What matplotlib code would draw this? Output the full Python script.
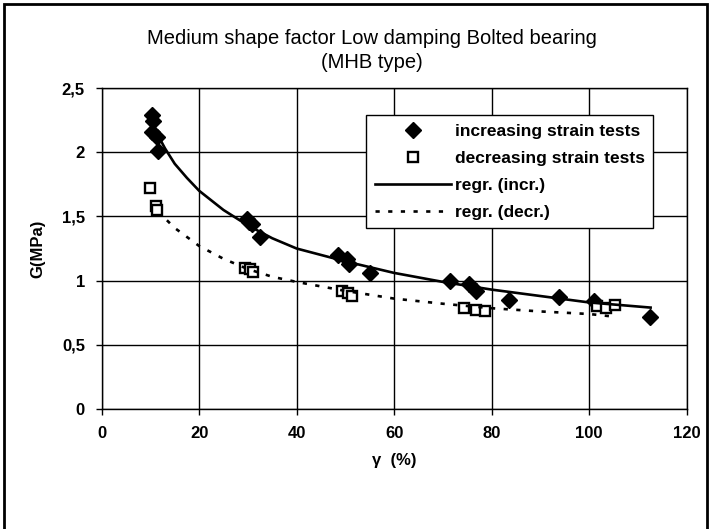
import matplotlib.pyplot as plt
from matplotlib.patches import Rectangle

plt.rcParams['font.family'] = ['Liberation Sans', 'DejaVu Sans']

# increasing strain tests
incr_x = [10.3, 10.5, 10.3, 11.3, 11.6, 29.8, 30.3, 30.8, 32.5,
          48.5, 50.3, 50.8, 55.1, 71.4, 75.3, 76.7, 83.5, 93.8, 101.0, 112.5]
incr_G = [2.29, 2.24, 2.16, 2.12, 2.01, 1.48, 1.46, 1.44, 1.34,
          1.20, 1.17, 1.13, 1.06, 0.995, 0.97, 0.92, 0.85, 0.875, 0.84, 0.72]

# decreasing strain tests
decr_x = [9.9, 11.1, 11.3, 29.4, 30.5, 31.1, 49.3, 50.5, 51.4,
          74.3, 76.7, 78.7, 101.7, 103.4, 105.4]
decr_G = [1.72, 1.58, 1.55, 1.10, 1.09, 1.07, 0.92, 0.90, 0.88,
          0.79, 0.77, 0.766, 0.80, 0.787, 0.81]

# regression curves as drawn
regr_incr_x = [11.3, 13, 15, 17.5, 20, 25, 30, 35, 40, 50, 60, 70, 80, 90, 100, 112.6]
regr_incr_G = [2.15, 2.03, 1.91, 1.80, 1.70, 1.55, 1.43, 1.33, 1.25, 1.15, 1.06, 0.99, 0.93, 0.88, 0.83, 0.79]
regr_decr_x = [13.4, 15, 17.5, 20, 25, 30, 35, 40, 50, 60, 70, 80, 90, 100, 105]
regr_decr_G = [1.47, 1.41, 1.34, 1.27, 1.17, 1.09, 1.03, 0.99, 0.92, 0.86, 0.82, 0.785, 0.76, 0.74, 0.72]

xticks = [0, 20, 40, 60, 80, 100, 120]
yticks = [0, 0.5, 1, 1.5, 2, 2.5]
ytick_labels = ['0', '0,5', '1', '1,5', '2', '2,5']

fig = plt.figure(figsize=(7.11, 5.29), dpi=100)
ax = fig.add_axes([0.1429, 0.2268, 0.8229, 0.6068])

ax.grid(True, color='black', linewidth=1.0)
ax.set_axisbelow(True)

ax.plot(incr_x, incr_G, 'D', color='black', markersize=8, label='increasing strain tests')
ax.plot(decr_x, decr_G, 's', color='black', markerfacecolor='white', markeredgewidth=1.7,
        markersize=7.5, label='decreasing strain tests')
ax.plot(regr_incr_x, regr_incr_G, '-', color='black', linewidth=1.9, label='regr. (incr.)')
ax.plot(regr_decr_x, regr_decr_G, color='black', linewidth=1.9, linestyle=(0, (1.6, 3.2)),
        label='regr. (decr.)')

ax.set_xlim(0, 120)
ax.set_ylim(0, 2.5)
ax.set_xticks(xticks)
ax.set_yticks(yticks)
ax.set_yticklabels(ytick_labels)
for lbl in ax.get_xticklabels() + ax.get_yticklabels():
    lbl.set_fontweight('bold')
ax.tick_params(labelsize=12, direction='out', length=4, width=1, pad=8)
for s in ax.spines.values():
    s.set_linewidth(1.0)

ax.set_xlabel('\u03b3  (%)', fontsize=12, fontweight='bold', labelpad=9)
ax.set_ylabel('G(MPa)', fontsize=12, fontweight='bold', labelpad=12)

fig.text(0.523, 0.905, 'Medium shape factor Low damping Bolted bearing\n(MHB type)',
         ha='center', va='center', fontsize=14.5, linespacing=1.3)

leg = ax.legend(loc='upper right', bbox_to_anchor=(0.943, 0.916), numpoints=1,
                prop={'weight': 'bold', 'size': 12.5}, frameon=True, fancybox=False,
                handlelength=4.4, handletextpad=0.2, labelspacing=0.68, borderpad=0.5,
                borderaxespad=0)
leg.get_frame().set_edgecolor('black')
leg.get_frame().set_linewidth(1.0)
leg.get_frame().set_alpha(1)

# outer frame of the scanned figure
fig.patches.append(Rectangle((3.5 / 711, -0.05), 703 / 711, 1.05 - 3.5 / 529,
                             transform=fig.transFigure, fill=False,
                             edgecolor='black', linewidth=2))

fig.savefig('out.png', dpi=100)
